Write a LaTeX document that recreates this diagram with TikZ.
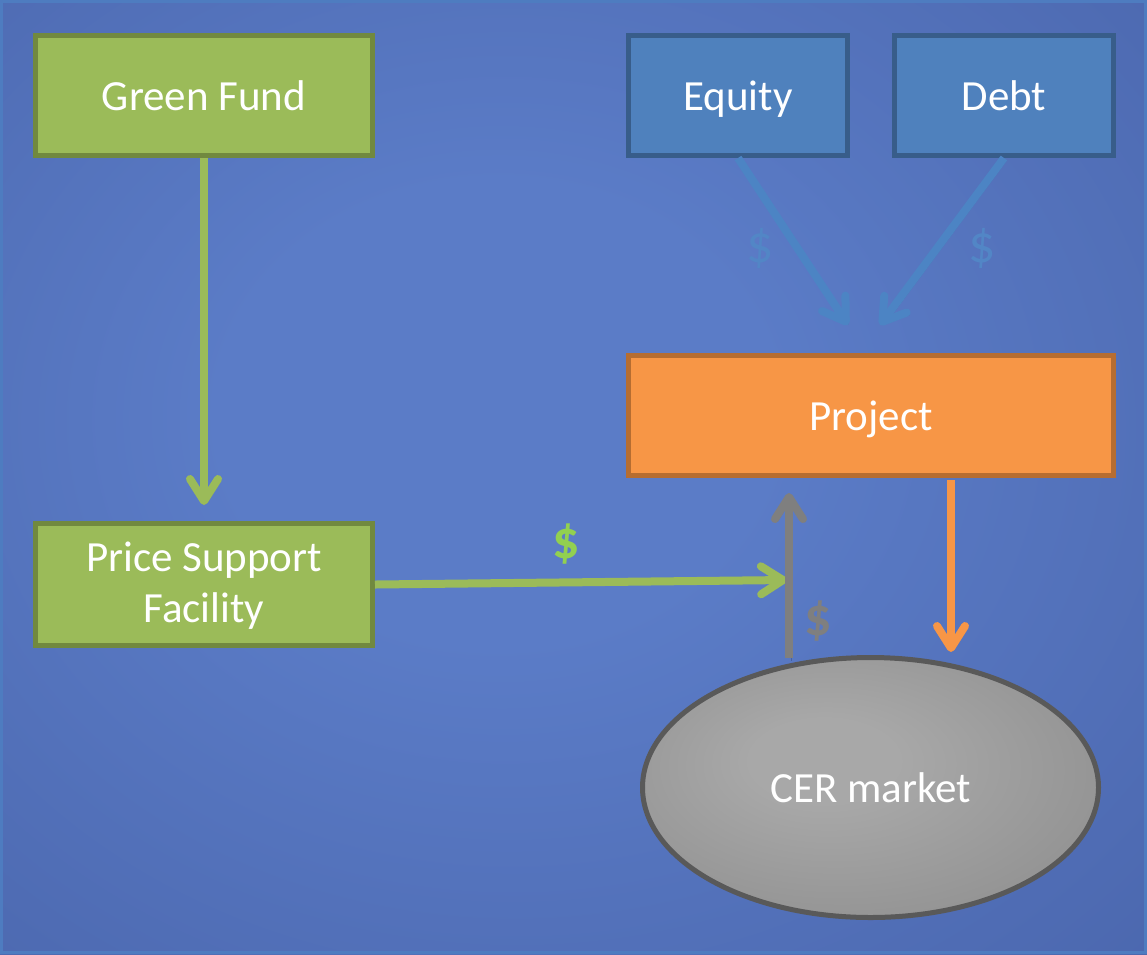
\documentclass[tikz,border=0pt]{standalone}
\usepackage{fontspec}
\setmainfont{Carlito}
\usetikzlibrary{arrows.meta,shapes.geometric}
\definecolor{bgin}{HTML}{5B7CC7}
\definecolor{bgout}{HTML}{384E90}
\definecolor{frameblue}{HTML}{4E7CC0}
\definecolor{gfill}{HTML}{9BBB59}
\definecolor{gline}{HTML}{71893F}
\definecolor{bfill}{HTML}{4F81BD}
\definecolor{bline}{HTML}{385D8A}
\definecolor{barrow}{HTML}{4C84C4}
\definecolor{ofill}{HTML}{F79646}
\definecolor{oline}{HTML}{B66D31}
\definecolor{garrow}{HTML}{7F7F7F}
\definecolor{eline}{HTML}{595959}
\definecolor{ein}{HTML}{A8A8A8}
\definecolor{eout}{HTML}{7C7C7C}
\definecolor{gdollar}{HTML}{92D050}
\definecolor{bdollar}{HTML}{5286C6}
\pgfdeclareradialshading{bgshade}{\pgfpoint{-4bp}{4bp}}{color(0bp)=(bgin); color(12bp)=(bgin); color(72bp)=(bgout)}
\pgfdeclareradialshading{eshade}{\pgfpoint{-6bp}{6bp}}{color(0bp)=(ein); color(8bp)=(ein); color(55bp)=(eout)}
\tikzset{
  box/.style={rectangle, draw, line width=5pt, text=white, font=\fontsize{43}{51}\selectfont, align=center, inner sep=0pt, text height=29pt, text depth=0pt},
  greenbox/.style={box, fill=gfill, draw=gline},
  bluebox/.style={box, fill=bfill, draw=bline},
  orangebox/.style={box, fill=ofill, draw=oline},
  flow/.style={line width=8pt, -{Straight Barb[length=22pt,width=28pt,round]},
    preaction={draw=black, opacity=0.18, transform canvas={shift={(2.5,2.5)}}}},
  dollar/.style={font=\fontsize{54}{60}\selectfont\bfseries, inner sep=0pt},
  bluedollar/.style={font=\fontsize{54}{60}\selectfont, inner sep=0pt, bdollar},
}
\begin{document}
\begin{tikzpicture}[x=1pt,y=-1pt]
\useasboundingbox (0,0) rectangle (1147,954);
\shade[shading=bgshade] (0,0) rectangle (1147,954);
\draw[frameblue, line width=3pt] (1.5,1.5) rectangle (1145.5,952.5);

\node[greenbox, minimum width=337pt, minimum height=120pt] (gf) at (204,95.5) {Green Fund};
\node[bluebox, minimum width=219pt, minimum height=120pt] (eq) at (738,95.5) {Equity};
\node[bluebox, minimum width=219pt, minimum height=120pt] (debt) at (1004,95.5) {Debt};
\node[orangebox, minimum width=485pt, minimum height=120pt] (proj) at (871,415.5) {Project};
\node[greenbox, minimum width=337pt, minimum height=122pt, text height=80pt, text depth=5pt] (psf) at (204,584.5) {Price Support\\Facility};
\node[ellipse, draw=eline, line width=5pt, shading=eshade, minimum width=456pt, minimum height=260pt, text=white, font=\fontsize{43}{54}\selectfont, inner sep=0pt, text height=29pt, text depth=0pt] (cer) at (870.5,787.5) {CER market};

\coordinate (eqtip) at (848,325);
\coordinate (debttip) at (880,325);
\coordinate (gftip) at (204,505);
\coordinate (psftip) at (787,580);
\coordinate (cerstart) at (789,658);
\coordinate (certip) at (789,493);
\coordinate (projstart) at (951,480);
\coordinate (projtip) at (951,652);

\draw[flow, barrow] (eq.south) -- (eqtip);
\draw[flow, barrow] (debt.south) -- (debttip);
\draw[flow, gfill] (gf.south) -- (gftip);
\draw[flow, gfill] (psf.east) -- (psftip);
\draw[flow, garrow] (cerstart) -- (certip);
\draw[flow, ofill] (projstart) -- (projtip);

\node[bluedollar] (d1) at (760,248) {\$};
\node[bluedollar] (d2) at (982,248) {\$};
\node[dollar, gdollar] (d3) at (566,544) {\$};
\node[dollar, garrow] (d4) at (818,621) {\$};
\end{tikzpicture}
\end{document}
